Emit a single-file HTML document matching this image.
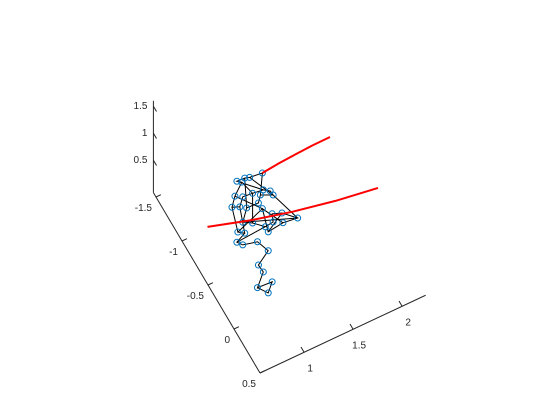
<!DOCTYPE html>
<html><head><meta charset="utf-8"><style>
html,body{margin:0;padding:0;background:#fff;}
svg{display:block;font-family:"Liberation Sans",sans-serif;font-size:10px;}
</style></head><body>
<svg id="chart" width="560" height="420" viewBox="0 0 560 420">
<rect width="560" height="420" fill="#fff"/>
<g id="axes"></g>
<g id="edges"></g>
<g id="markers"></g>
<g id="redlines"></g>
</svg>
<script>
// data (y held at -1 for all joints)
const jointX = [1.37,1.11,1.19,1.24,1.16,1.27,1.38,1.45,1.48,1.09,1.17,1.35,1.06,1.14,1.21,1.33,1.37,1.47,1.57,1.73,1.58,1.48,1.17,1.27,1.40,1.12,1.19,1.43,1.11,1.17,1.32,1.43,1.33,1.38,1.47,1.32,1.43];
const jointY = [-1,-1,-1,-1,-1,-1,-1,-1,-1,-1,-1,-1,-1,-1,-1,-1,-1,-1,-1,-1,-1,-1,-1,-1,-1,-1,-1,-1,-1,-1,-1,-1,-1,-1,-1,-1,-1];
const jointZ = [0.46,0.53,0.52,0.49,0.47,0.17,0.14,0.06,-0.04,0.27,0.19,0.07,0.09,0.03,-0.05,-0.06,-0.20,-0.38,-0.45,-0.68,-0.64,-0.54,-0.28,-0.38,-0.56,-0.42,-0.50,-0.68,-0.60,-0.70,-0.77,-1.03,-1.21,-1.38,-1.64,-1.62,-1.81];
const pathOrder = [0,3,2,1,4,9,12,13,10,5,6,7,8,11,15,14,22,23,24,21,17,18,19,20,27,16,25,26,28,29,30,31,32,33,35,34,36,35];
const extraEdges = [[0,11],[3,8],[8,19],[19,22],[4,5],[12,25],[16,20],[24,28],[5,23],[13,26],[18,27],[1,6],[2,14],[9,16]];
const red1X = [1.37,1.54,1.71,1.88,2.06], red1Y = [-1,-1,-1,-1,-1], red1Z = [0.46,0.495,0.52,0.535,0.54];
const red2X = [0.81,1.245,1.68,2.115,2.55], red2Y = [-1,-1,-1,-1,-1], red2Z = [-0.06,-0.31,-0.52,-0.69,-0.82];
const xTicks = [1,1.5,2], xTickLabels = ["1","1.5","2"];
const yTicks = [-1.5,-1,-0.5,0,0.5], yTickLabels = ["-1.5","-1","-0.5","0","0.5"];
const zTicks = [0.5,1,1.5], zTickLabels = ["0.5","1","1.5"];
const xMin=0.55,xMax=2.24,yMin=-1.55,yMax=0.5,zMin=-0.1,zMax=1.6;

function px(x,y,z){return 260+98*(x-xMin)+52*(y-yMax);}
function py(x,y,z){return 373-46*(x-xMin)+88*(y-yMax)-54*(z-zMin);}
const NS="http://www.w3.org/2000/svg";
function mk(tag,attrs,parent){const e=document.createElementNS(NS,tag);for(const k in attrs)e.setAttribute(k,attrs[k]);parent.appendChild(e);return e;}
const axes=document.getElementById('axes');
function line(a,b,name,stroke,w){const l=mk('line',{x1:a[0],y1:a[1],x2:b[0],y2:b[1],stroke:stroke||'#262626','stroke-width':w||1},axes);

return l;}
function P(x,y,z){return [px(x,y,z),py(x,y,z)];}
line(P(xMin,yMax,zMin),P(xMax,yMax,zMin),'x-axis');
line(P(xMin,yMin,zMin),P(xMin,yMax,zMin),'y-axis');
line(P(xMin,yMin,zMin),P(xMin,yMin,zMax),'z-axis');
function text(x,y,s,anchor,name){const t=mk('text',{x:x,y:y,'text-anchor':anchor,fill:'#262626'},axes);t.textContent=s;

}
xTicks.forEach((v,i)=>{const a=P(v,yMax,zMin),b=P(v,yMax-0.06,zMin);line(a,b,'x-tick');text(a[0]+6,a[1]+19,xTickLabels[i],'middle','x-tick-label');});
yTicks.forEach((v,i)=>{const a=P(xMin,v,zMin),b=P(xMin+0.05,v,zMin);line(a,b,'y-tick');text(a[0]-4,a[1]+14,yTickLabels[i],'end','y-tick-label');});
zTicks.forEach((v,i)=>{const a=P(xMin,yMin,v),b=P(xMin,yMin+0.06,v);line(a,b,'z-tick');text(a[0]-6,a[1]+3,zTickLabels[i],'end','z-tick-label');});

const edges=document.getElementById('edges');
let d='';pathOrder.forEach((j,i)=>{d+=(i?'L':'M')+px(jointX[j],jointY[j],jointZ[j]).toFixed(1)+','+py(jointX[j],jointY[j],jointZ[j]).toFixed(1);});
extraEdges.forEach(e=>{const a=e[0],b=e[1];d+='M'+px(jointX[a],jointY[a],jointZ[a]).toFixed(1)+','+py(jointX[a],jointY[a],jointZ[a]).toFixed(1)+'L'+px(jointX[b],jointY[b],jointZ[b]).toFixed(1)+','+py(jointX[b],jointY[b],jointZ[b]).toFixed(1);});
const ep=mk('path',{d:d,fill:'none',stroke:'#000','stroke-width':1},edges);


const markers=document.getElementById('markers');
jointX.forEach((x,i)=>{const c=mk('circle',{cx:px(x,jointY[i],jointZ[i]),cy:py(x,jointY[i],jointZ[i]),r:3,fill:'none',stroke:'#0072bd','stroke-width':1},markers);

});
const red=document.getElementById('redlines');
[[red1X,red1Y,red1Z],[red2X,red2Y,red2Z]].forEach((s,k)=>{const pts=s[0].map((x,i)=>px(x,s[1][i],s[2][i]).toFixed(1)+','+py(x,s[1][i],s[2][i]).toFixed(1)).join(' ');
const pl=mk('polyline',{points:pts,fill:'none',stroke:'#ff0000','stroke-width':2,'stroke-linejoin':'round'},red);

});
</script>
</body></html>
